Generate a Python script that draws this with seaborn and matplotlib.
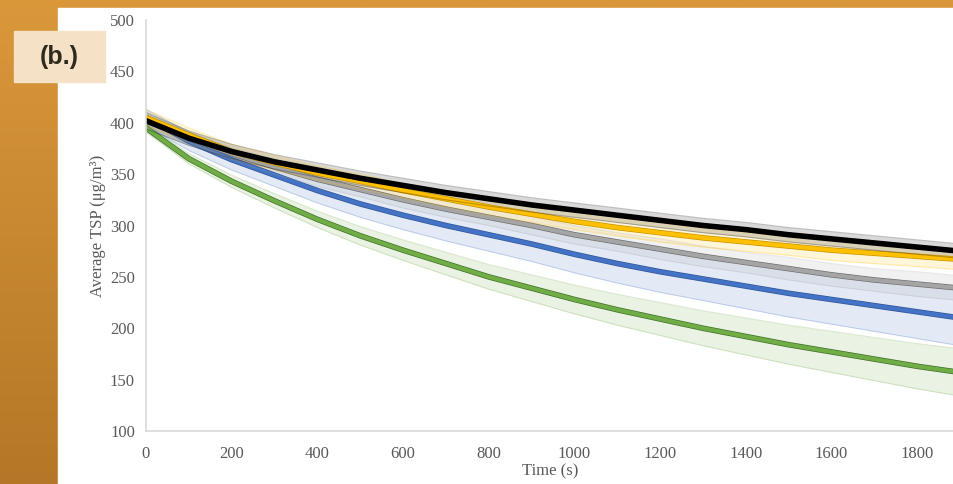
import numpy as np
import pandas as pd
import seaborn as sns
import matplotlib.patheffects as pe
from matplotlib import pyplot as plt
from matplotlib.patches import Rectangle

# time axis (s)
time_s = [0, 100, 200, 300, 400, 500, 600, 700, 800, 900,
          1000, 1100, 1200, 1300, 1400, 1500, 1600, 1700, 1800, 1900]

# average TSP (ug/m3) per series
black_tsp = [402, 385, 372, 362, 354, 346, 339, 332, 326, 320,
             315, 310, 305, 300, 296, 291, 287, 283, 279, 275]
gold_tsp = [405, 388, 372, 361, 351, 343, 334, 326, 318, 311,
            304, 298, 293, 288, 284, 280, 276, 273, 270, 267]
gray_tsp = [402, 385, 370, 357, 345, 335, 325, 316, 308, 300,
            291, 284, 277, 270, 264, 258, 252, 247, 243, 239]
blue_tsp = [405, 382, 364, 349, 334, 321, 310, 300, 291, 282,
            272, 263, 255, 248, 241, 234, 228, 222, 216, 210]
green_tsp = [395, 365, 343, 324, 306, 290, 276, 263, 250, 239,
             228, 218, 209, 200, 192, 184, 177, 170, 163, 157]

# standard deviations (shaded bands)
black_sd = [8, 7, 7, 7, 7, 7, 7, 7, 7, 7, 7, 7, 7, 7, 7, 7, 7, 7, 7, 7]
gold_sd = [8, 7, 7, 7, 7, 7, 7, 8, 8, 8, 8, 8, 9, 9, 9, 9, 10, 10, 10, 10]
gray_sd = [6, 6, 6, 7, 7, 7, 8, 8, 8, 9, 9, 9, 10, 10, 10, 11, 11, 11, 12, 12]
blue_sd = [8, 9, 10, 11, 12, 13, 14, 15, 16, 17, 18, 19, 20, 21, 22, 23, 24, 25, 26, 27]
green_sd = [4, 5, 6, 7, 8, 9, 10, 11, 12, 13, 14, 15, 16, 17, 18, 19, 20, 21, 22, 23]

series = [
    ("green", green_tsp, green_sd, "#70AD47", "#3F6E27"),
    ("blue", blue_tsp, blue_sd, "#4472C4", "#2F5597"),
    ("gray", gray_tsp, gray_sd, "#A5A5A5", "#6E6E6E"),
    ("gold", gold_tsp, gold_sd, "#FFC000", "#C59200"),
    ("black", black_tsp, black_sd, "#000000", "#000000"),
]

sns.set_style("white")
plt.rcParams["font.family"] = ["Liberation Serif", "DejaVu Serif"]

fig = plt.figure(figsize=(9.54, 4.84), dpi=100)
fig.patch.set_facecolor("#D9963A")

# gradient on the left strip
bg = fig.add_axes([0, 0, 1, 1], zorder=-10)
grad = np.linspace(0, 1, 256).reshape(-1, 1)
bg.imshow(grad, aspect="auto", extent=(0, 1, 0, 1), origin="upper",
          cmap=sns.blend_palette(["#DA983B", "#B57727"], as_cmap=True))
bg.add_patch(Rectangle((58 / 954, 0), 1, 1 - 8 / 484, color="white"))
bg.set_xlim(0, 1)
bg.set_ylim(0, 1)
bg.axis("off")

ax = fig.add_axes([146 / 954, 53 / 484, 1 - 146 / 954, 411 / 484])
ax.set_facecolor("none")

for name, vals, sd, color, edge in series:
    lo = np.array(vals) - np.array(sd)
    hi = np.array(vals) + np.array(sd)
    ax.fill_between(time_s, lo, hi, color=color, alpha=0.15, lw=0)
    ax.plot(time_s, lo, color=color, alpha=0.25, lw=0.8)
    ax.plot(time_s, hi, color=color, alpha=0.25, lw=0.8)
    df = pd.DataFrame({"Time": time_s, "TSP": vals})
    sns.lineplot(data=df, x="Time", y="TSP", ax=ax, color=color, lw=3,
                 path_effects=[pe.Stroke(linewidth=4, foreground=edge), pe.Normal()])

ax.set_xlim(0, 1886)
ax.set_ylim(100, 500)
ax.set_xticks(np.arange(0, 1801, 200))
ax.set_yticks(np.arange(100, 501, 50))
ax.tick_params(axis="x", length=0, labelsize=12, labelcolor="#595959", pad=11)
ax.tick_params(axis="y", length=0, labelsize=12, labelcolor="#595959", pad=8)
ax.set_xlabel("Time (s)", fontsize=12, color="#595959", labelpad=1)
ax.set_ylabel("Average TSP (μg/m³)", fontsize=12, color="#595959", labelpad=3)
sns.despine(ax=ax)
for s in ["left", "bottom"]:
    ax.spines[s].set_color("#D9D9D9")
    ax.spines[s].set_linewidth(1.2)

# panel label
bg.add_patch(Rectangle((14 / 954, 1 - 82 / 484), 91 / 954, 51 / 484, color="#F5E1C6"))
fig.text(59 / 954, 1 - 57 / 484, "(b.)", ha="center", va="center", fontsize=18,
         fontweight="bold", color="#2E2A1E", family=["Liberation Sans", "DejaVu Sans"])

fig.savefig("out.png", dpi=100)
